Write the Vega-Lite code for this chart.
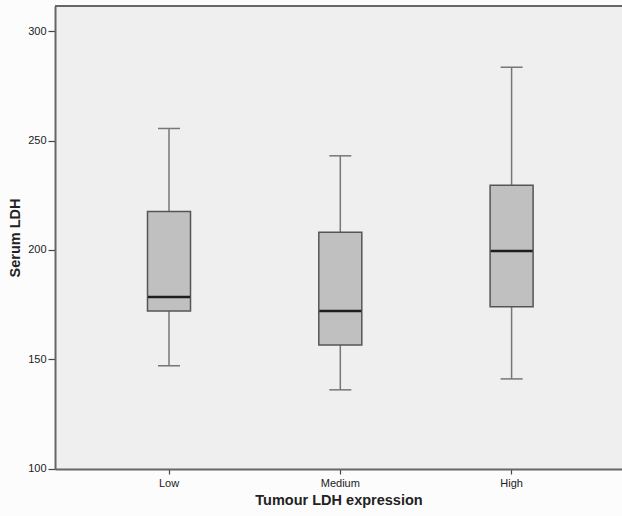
{
  "$schema": "https://vega.github.io/schema/vega-lite/v6.json",
  "autosize": {"type": "none"},
  "width": 567,
  "height": 463,
  "padding": {"left": 55, "top": 6, "right": 0, "bottom": 47},
  "background": "#fcfcfc",
  "config": {
    "view": {"fill": "#efefef", "stroke": null},
    "font": "Liberation Sans"
  },
  "data": {
    "values": [
      {"group": "Low", "lower": 147, "q1": 172, "median": 178.5, "q3": 217.5, "upper": 255.5},
      {"group": "Medium", "lower": 136, "q1": 156.5, "median": 172, "q3": 208, "upper": 243},
      {"group": "High", "lower": 141, "q1": 174, "median": 199.5, "q3": 229.5, "upper": 283.5}
    ]
  },
  "layer": [
    {
      "mark": {"type": "rule", "color": "#777777", "strokeWidth": 1.5},
      "encoding": {
        "x": {
          "field": "group", "type": "nominal", "sort": ["Low", "Medium", "High"],
          "scale": {"paddingInner": 0.5, "paddingOuter": 0.405, "align": 0.513},
          "axis": {
            "labelAngle": 0, "labelFontSize": 11, "labelColor": "#222222", "labelPadding": 3,
            "domainColor": "#666666", "domainWidth": 2, "tickColor": "#444444", "tickSize": 5, "tickWidth": 1.2,
            "title": "Tumour LDH expression", "titleFontSize": 14.5, "titleFontWeight": "bold", "titleColor": "#222222", "titlePadding": 5
          }
        },
        "y": {
          "field": "lower", "type": "quantitative",
          "scale": {"domain": [99.8, 311.5], "nice": false, "zero": false},
          "axis": {
            "values": [100, 150, 200, 250, 300], "grid": false,
            "labelFontSize": 11, "labelColor": "#222222", "labelPadding": 2,
            "domainColor": "#666666", "domainWidth": 2, "tickColor": "#444444", "tickSize": 7, "tickWidth": 1.2,
            "title": "Serum LDH", "titleFontSize": 14.5, "titleFontWeight": "bold", "titleColor": "#222222", "titlePadding": 5
          }
        },
        "y2": {"field": "upper"}
      }
    },
    {
      "mark": {"type": "tick", "color": "#777777", "thickness": 1.5, "size": 22, "opacity": 1},
      "encoding": {
        "x": {"field": "group", "type": "nominal", "sort": ["Low", "Medium", "High"]},
        "y": {"field": "lower", "type": "quantitative"}
      }
    },
    {
      "mark": {"type": "tick", "color": "#777777", "thickness": 1.5, "size": 22, "opacity": 1},
      "encoding": {
        "x": {"field": "group", "type": "nominal", "sort": ["Low", "Medium", "High"]},
        "y": {"field": "upper", "type": "quantitative"}
      }
    },
    {
      "mark": {"type": "bar", "size": 43, "fill": "#c0c0c0", "stroke": "#555555", "strokeWidth": 1.5},
      "encoding": {
        "x": {"field": "group", "type": "nominal", "sort": ["Low", "Medium", "High"]},
        "y": {"field": "q1", "type": "quantitative"},
        "y2": {"field": "q3"}
      }
    },
    {
      "mark": {"type": "tick", "color": "#1e1e1e", "thickness": 2.5, "size": 42, "opacity": 1},
      "encoding": {
        "x": {"field": "group", "type": "nominal", "sort": ["Low", "Medium", "High"]},
        "y": {"field": "median", "type": "quantitative"}
      }
    },
    {
      "data": {"values": [{}]},
      "mark": {"type": "rule", "color": "#666666", "strokeWidth": 2},
      "encoding": {"y": {"datum": 311.5}}
    }
  ]
}
